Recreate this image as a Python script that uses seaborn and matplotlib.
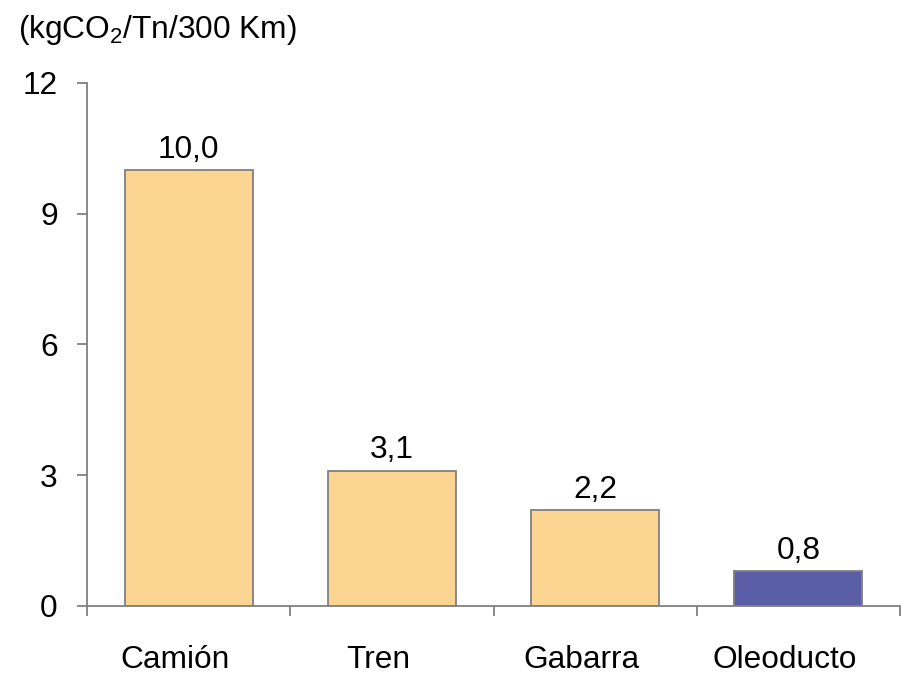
import matplotlib
matplotlib.use("Agg")
import matplotlib.pyplot as plt
import matplotlib.transforms as mtransforms
import seaborn as sns
import pandas as pd

# datos
modos = ['Camión', 'Tren', 'Gabarra', 'Oleoducto']
emisiones = [10.0, 3.1, 2.2, 0.8]
etiquetas = ['10,0', '3,1', '2,2', '0,8']
colores = ['#FDD593', '#FDD593', '#FDD593', '#5A5EA6']
yticks = [0, 3, 6, 9, 12]

sns.set_style('white')
plt.rcParams['font.family'] = ['Liberation Sans', 'DejaVu Sans']
plt.rcParams['mathtext.fontset'] = 'custom'
plt.rcParams['mathtext.rm'] = 'Liberation Sans'
plt.rcParams['mathtext.it'] = 'Liberation Sans'
plt.rcParams['text.color'] = 'black'
plt.rcParams['xtick.color'] = 'black'
plt.rcParams['ytick.color'] = 'black'

fs = 22.8

df = pd.DataFrame({'modo': modos, 'valor': emisiones})

fig = plt.figure(figsize=(9.01, 6.74), dpi=100)
ax = fig.add_axes([0.0966, 0.1009, 0.9024, 0.776])

sns.barplot(data=df, x='modo', y='valor', hue='modo', palette=colores, saturation=1,
            width=0.63, edgecolor='#808080', linewidth=1.3, legend=False, ax=ax)

for i, (v, t) in enumerate(zip(emisiones, etiquetas)):
    ax.annotate(t, (i, v), xytext=(0, 4), textcoords='offset points',
                ha='center', va='bottom', fontsize=fs)

ax.set_ylim(0, 12)
ax.set_xlim(-0.5, 3.5)
ax.set_yticks(yticks)
ax.set_yticklabels([str(y) for y in yticks])
ax.set_xlabel('')
ax.set_ylabel('')

# ticks del eje x en los limites de las categorias
ax.set_xticks([-0.5, 0.5, 1.5, 2.5, 3.5], minor=True)
ax.tick_params(axis='x', which='major', length=0, pad=28, labelsize=fs)
ax.tick_params(axis='x', which='minor', length=7, width=1.3, color='#808080', direction='out', bottom=True)
ax.tick_params(axis='y', which='major', length=7, width=1.3, color='#808080', direction='out', left=True, pad=14, labelsize=fs)

# etiquetas de categoria un poco a la izquierda, como en el original
desplaza = mtransforms.ScaledTranslation(-0.14, 0, fig.dpi_scale_trans)
for lab in ax.get_xticklabels():
    lab.set_transform(lab.get_transform() + desplaza)

for s in ['top', 'right']:
    ax.spines[s].set_visible(False)
for s in ['left', 'bottom']:
    ax.spines[s].set_color('#808080')
    ax.spines[s].set_linewidth(1.3)

fig.text(0.02, 0.955, r'(kgCO$_2$/Tn/300 Km)', fontsize=fs, ha='left', va='center')

fig.savefig('out.png', dpi=100)
